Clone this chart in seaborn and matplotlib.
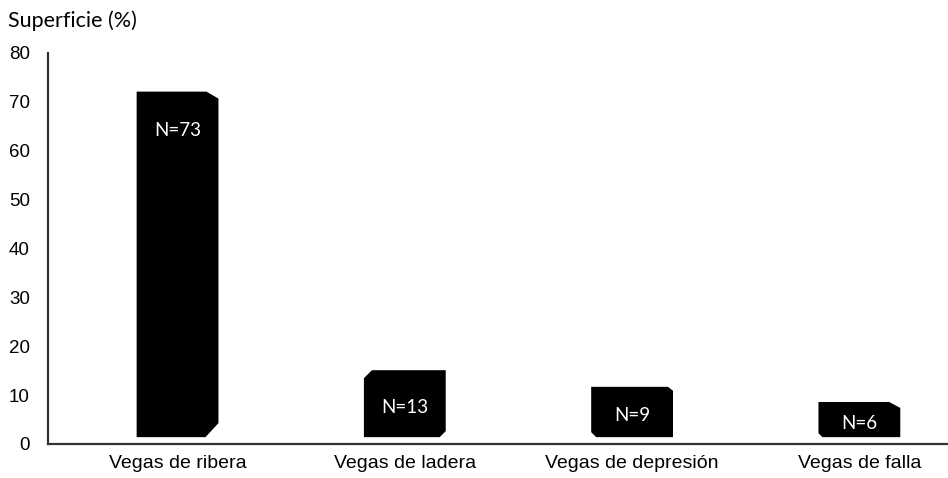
import matplotlib
matplotlib.use("Agg")
import matplotlib.pyplot as plt
import seaborn as sns
import pandas as pd
from matplotlib.patches import Polygon

# Data
categories = ["Vegas de ribera", "Vegas de ladera", "Vegas de depresión", "Vegas de falla"]
superficie = [72.1, 15.1, 11.7, 8.6]   # % of surface (top of each bar)
n_vegas = [73, 13, 9, 6]
y_ticks = [0, 10, 20, 30, 40, 50, 60, 70, 80]

# Bars float slightly above the axis (pseudo-3D look)
BASE = 1.4
# chamfered corners per bar: corner -> (width px, height px)
bevels = [
    {"tr": (12, 7), "br": (13, 14)},
    {"tl": (8, 8), "br": (6, 6)},
    {"tr": (5, 4), "bl": (5, 5)},
    {"tr": (11, 6), "bl": (4, 4)},
]

sns.set_theme(style="white")
plt.rcParams["font.family"] = ["Liberation Sans", "DejaVu Sans"]

W, H = 948, 478
fig = plt.figure(figsize=(W / 100, H / 100), dpi=100)
ax = fig.add_axes([48 / W, 34 / H, 900 / W, 391 / H])

df = pd.DataFrame({"tipo": categories, "sup": superficie})
sns.barplot(data=df, x="tipo", y="sup", color="black", saturation=1,
            width=0.36, ax=ax)

XL, XR = -0.57, 3.39
ax.set_xlim(XL, XR)
ax.set_ylim(0, 80)
ax.set_yticks(y_ticks)

# pixel -> data conversions
px_x = (XR - XL) / 900
px_y = 80 / 391

for patch, bev, n in zip(ax.patches, bevels, n_vegas):
    x0 = patch.get_x()
    x1 = x0 + patch.get_width()
    top = patch.get_height()
    b = BASE
    pts = []
    if "bl" in bev:
        w, h = bev["bl"]
        pts += [(x0, b + h * px_y), (x0 + w * px_x, b)]
    else:
        pts += [(x0, b)]
    if "br" in bev:
        w, h = bev["br"]
        pts += [(x1 - w * px_x, b), (x1, b + h * px_y)]
    else:
        pts += [(x1, b)]
    if "tr" in bev:
        w, h = bev["tr"]
        pts += [(x1, top - h * px_y), (x1 - w * px_x, top)]
    else:
        pts += [(x1, top)]
    if "tl" in bev:
        w, h = bev["tl"]
        pts += [(x0 + w * px_x, top), (x0, top - h * px_y)]
    else:
        pts += [(x0, top)]
    patch.set_visible(False)
    ax.add_patch(Polygon(pts, closed=True, facecolor="black", edgecolor="none"))

    cx = (x0 + x1) / 2
    ylab = max(top - 8, (top + b) / 2 - 0.8)
    ax.text(cx, ylab, f"N={n}", color="white", ha="center", va="center",
            fontsize=13.5, family=["Lato", "DejaVu Sans"])

sns.despine(ax=ax)
for s in ("left", "bottom"):
    ax.spines[s].set_color("#333333")
    ax.spines[s].set_linewidth(1.6)

ax.set_xlabel("")
ax.set_ylabel("")
ax.tick_params(axis="y", length=0, labelsize=13.5, pad=13, colors="black")
ax.tick_params(axis="x", length=0, labelsize=14, pad=8, colors="black")

fig.text(8 / W, 1 - 10 / H, "Superficie (%)", ha="left", va="top",
         fontsize=15.5, family=["Lato", "DejaVu Sans"], color="black")

fig.savefig("out.png", dpi=100, facecolor="white")
